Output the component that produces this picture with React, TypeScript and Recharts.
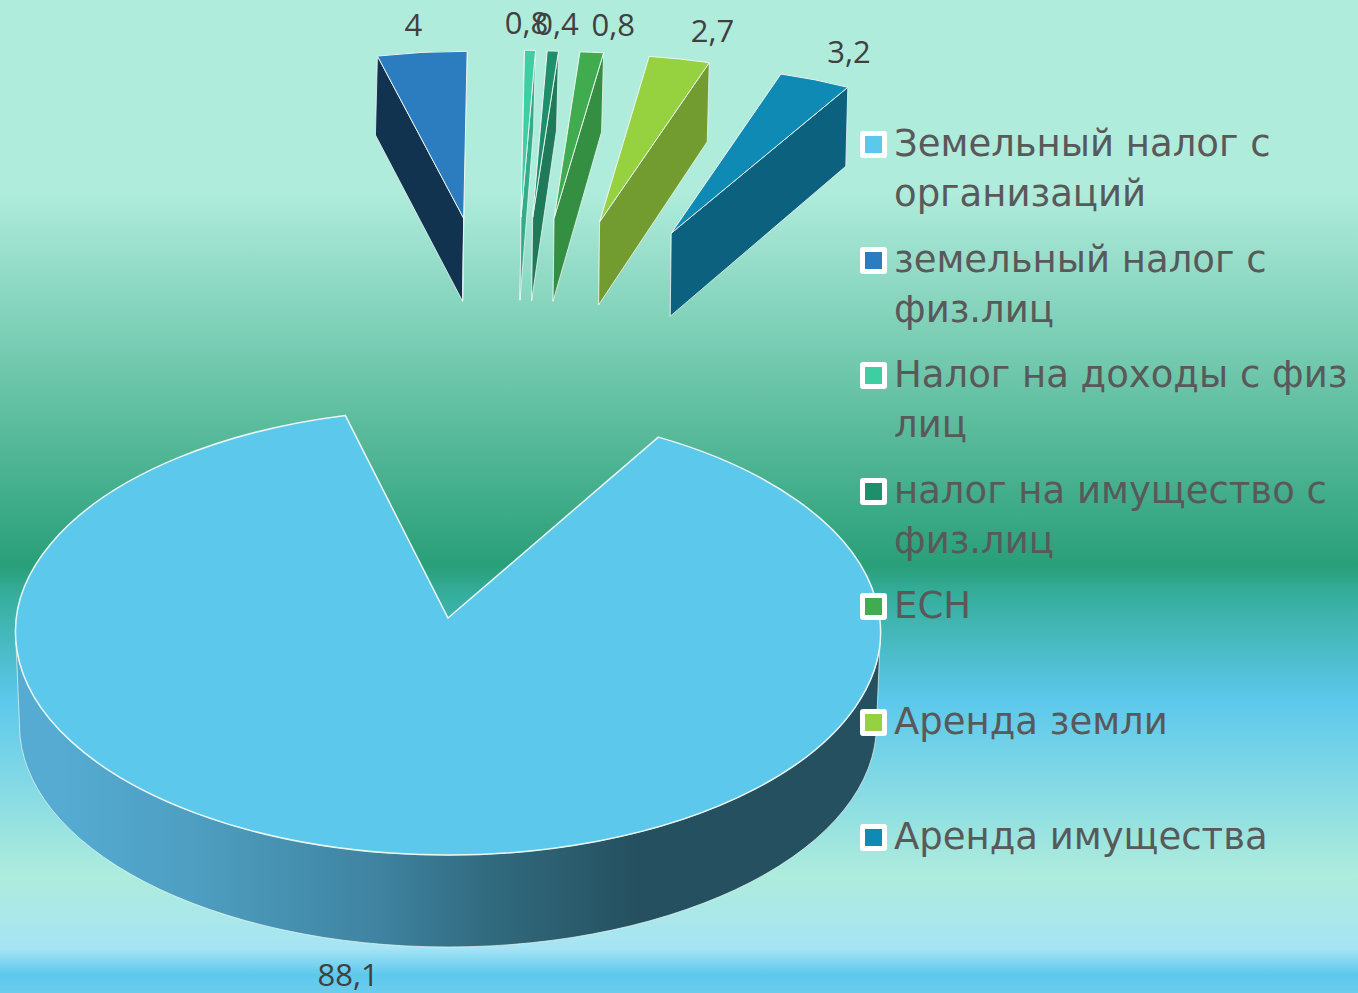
import { Legend, Pie, PieChart } from "recharts";

const categories = [
  "Земельный налог с организаций",
  "земельный налог с физ.лиц",
  "Налог на доходы с физ лиц",
  "налог на имущество с физ.лиц",
  "ЕСН",
  "Аренда земли",
  "Аренда имущества",
];
const shares = [88.1, 4, 0.8, 0.4, 0.8, 2.7, 3.2];
const topColors = ["#5BC8EC", "#2C7DBF", "#3DCFA2", "#1F8F6B", "#41AC4F", "#96D140", "#0F8AB4"];
const wallColors = ["#25505F", "#123350", "#33AD88", "#1F7A5A", "#358F42", "#739C30", "#0C617F"];

// label nudges off the rim of each slice, [dx, dy]
const labelNudge = [
  [-42, 28],
  [-9, -28],
  [-4, -28],
  [5, -28],
  [20, -28],
  [33, -29],
  [34, -29],
];

const pieData = categories.map((name, i) => ({ name, value: shares[i], fill: topColors[i] }));

const WIDTH = 1358;
const HEIGHT = 993;
const RAD = Math.PI / 180;

// recharts angle -> clockwise from 12 o'clock, kept within -180..180
const clock = (deg: number) => {
  const a = ((90 - deg) % 360 + 360) % 360;
  return a > 180 ? a - 360 : a;
};

// the thin slices near the middle sit a bit closer together in the picture
const squeeze = (a: number) => 8 * Math.exp(-(((a - 3.8) / 2) ** 2));

// where the tip of a pulled out slice lands
const explodedTip = (mid: number) => ({
  x: 510 + 407 * Math.sin(mid * RAD) - squeeze(mid),
  y: 415 - 198 * Math.cos(mid * RAD),
});

const rim = (x: number, y: number, rx: number, ry: number, a: number) => ({
  x: x + rx * Math.sin(a * RAD),
  y: y - ry * Math.cos(a * RAD),
});

const smallRim = (tip: { x: number; y: number }, a: number) => {
  const p = rim(tip.x, tip.y, 363, 167, a);
  return { x: p.x - squeeze(a), y: p.y };
};

const line = "#EAF6F2";

function BigSlice({ cx, cy, outerRadius, a1, a2, fill }: any) {
  const rx = outerRadius;
  const ry = 223;
  const ey = cy + 14;
  const p1 = rim(cx, ey, rx, ry, a1);
  const p2 = rim(cx, ey, rx, ry, a2);
  const left = { x: cx - rx, y: ey };
  const right = { x: cx + rx, y: ey };
  const wall = `M${left.x},${left.y} A${rx},${ry} 0 0 0 ${right.x},${right.y} L${right.x - 4},${right.y + 93} A${rx - 4},${ry - 1} 0 0 1 ${left.x + 4},${left.y + 93} Z`;
  return (
    <g>
      <defs>
        <linearGradient id="bigWall" gradientUnits="userSpaceOnUse" x1={cx - rx} y1="0" x2={cx + rx} y2="0">
          <stop offset="0.05" stopColor="#55ABD2" />
          <stop offset="0.2" stopColor="#4E9FC2" />
          <stop offset="0.42" stopColor="#3F83A0" />
          <stop offset="0.55" stopColor="#316A7E" />
          <stop offset="0.72" stopColor="#25505F" />
          <stop offset="1" stopColor="#25505F" />
        </linearGradient>
      </defs>
      <path d={wall} fill="url(#bigWall)" stroke={line} strokeWidth={1} strokeOpacity={0.7} />
      <path
        d={`M${cx},${cy} L${p1.x},${p1.y} A${rx},${ry} 0 1 1 ${p2.x},${p2.y} Z`}
        fill={fill}
        stroke={line}
        strokeWidth={1.5}
      />
    </g>
  );
}

function SmallSlice({ a1, a2, fill, wallFill }: any) {
  const mid = (a1 + a2) / 2;
  const tip = explodedTip(mid);
  const p1 = smallRim(tip, a1);
  const p2 = smallRim(tip, a2);
  const wallPath = (p: { x: number; y: number }) =>
    `M${tip.x},${tip.y} L${p.x},${p.y} L${p.x - 2},${p.y + 79} L${tip.x - 1},${tip.y + 83} Z`;
  return (
    <g>
      <path d={wallPath(p1)} fill={wallFill} stroke={line} strokeWidth={1} strokeOpacity={0.8} />
      <path d={wallPath(p2)} fill={wallFill} stroke={line} strokeWidth={1} strokeOpacity={0.8} />
      <path
        d={`M${tip.x},${tip.y} L${p1.x},${p1.y} A363,167 0 0 1 ${p2.x},${p2.y} Z`}
        fill={fill}
        stroke={line}
        strokeWidth={1}
      />
    </g>
  );
}

function sliceShape(props: any) {
  const { cx, cy, outerRadius, startAngle, endAngle, fill, name, payload } = props;
  const i = categories.indexOf(name ?? payload?.name);
  const a1 = clock(startAngle);
  const a2 = clock(endAngle);
  if (i === 0) return <BigSlice cx={cx} cy={cy} outerRadius={outerRadius} a1={a1} a2={a2} fill={fill} />;
  return <SmallSlice a1={a1} a2={a2} fill={fill} wallFill={wallColors[i]} />;
}

function sliceLabel(props: any) {
  const { cx, cy, outerRadius, midAngle, index, value } = props;
  const mid = clock(midAngle);
  const at =
    index === 0 ? rim(cx, cy + 14 + 93, outerRadius, 223, mid) : smallRim(explodedTip(mid), mid);
  const [dx, dy] = labelNudge[index];
  return (
    <text
      x={at.x + dx}
      y={at.y + dy}
      textAnchor="middle"
      dominantBaseline="central"
      fontFamily="'Open Sans', sans-serif"
      fontSize={31}
      fill="#404040"
    >
      {String(value).replace(".", ",")}
    </text>
  );
}

function LegendBox({ payload }: any) {
  return (
    <div style={{ position: "absolute", left: 0, top: 0 }}>
      {(payload || []).map((item: any, i: number) => (
        <div key={item.value} style={{ position: "absolute", left: 0, top: i * 115.5, width: 498 }}>
          <span
            style={{
              position: "absolute",
              left: 0,
              top: 12,
              width: 17,
              height: 17,
              border: "5px solid #fff",
              borderRadius: 3,
              background: topColors[i],
            }}
          />
          <div
            style={{
              marginLeft: 34,
              width: 464,
              fontFamily: "'DejaVu Sans', sans-serif",
              fontSize: 37,
              lineHeight: "50px",
              color: "#595959",
            }}
          >
            {item.value}
          </div>
        </div>
      ))}
    </div>
  );
}

export default function App() {
  return (
    <div
      style={{
        position: "absolute",
        left: 0,
        top: 0,
        width: WIDTH,
        height: HEIGHT,
        overflow: "hidden",
        background:
          "linear-gradient(180deg, #B0ECDC 0px, #B0ECDC 190px, #299F78 565px, #36AE9D 595px, #5CC8EC 700px, #AEECDC 875px, #A6E4F5 948px, #5CC8EC 975px, #6CCDEE 993px)",
      }}
    >
      <PieChart width={WIDTH} height={HEIGHT} margin={{ top: 0, right: 0, bottom: 0, left: 0 }}>
        <Pie
          data={pieData}
          dataKey="value"
          nameKey="name"
          cx={448}
          cy={618}
          innerRadius={0}
          outerRadius={432.5}
          startAngle={60.9}
          endAngle={-299.1}
          shape={sliceShape}
          label={sliceLabel}
          labelLine={false}
          isAnimationActive={false}
        />
        <Legend
          content={<LegendBox />}
          itemSorter={null}
          wrapperStyle={{ position: "absolute", left: 860, top: 119, width: 498, height: 0 }}
        />
      </PieChart>
    </div>
  );
}
